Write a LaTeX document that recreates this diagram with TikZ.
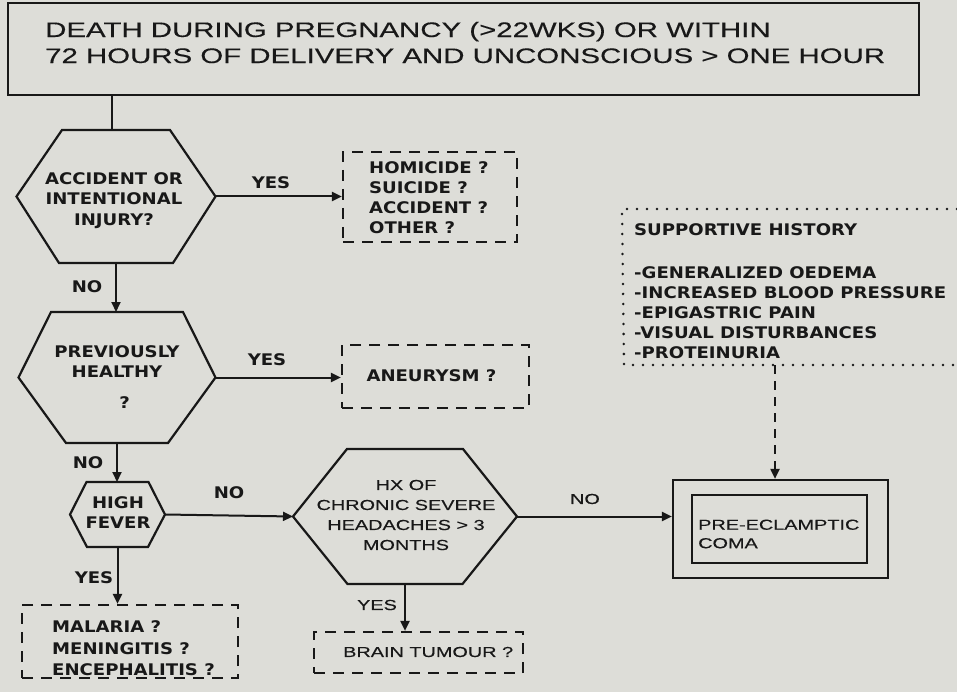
\documentclass[tikz,border=0pt]{standalone}
\usepackage{fontspec}
\usepackage{graphicx}
\setmainfont{Liberation Sans}
\newfontfamily\arialmed{Liberation Sans}[FakeBold=0.3]
\newfontfamily\widefont{DejaVu Sans}
\usetikzlibrary{arrows.meta}

\definecolor{paper}{RGB}{221,221,216}
\definecolor{inkc}{RGB}{24,24,24}

% horizontally stretched lettering
\newcommand\wb[1]{\scalebox{1.13}[1]{#1}}
\newcommand\wa[1]{\scalebox{1.37}[1]{#1}}
\newcommand\wt[1]{\scalebox{1.40}[1]{#1}}

% decision hexagon: name, cx, cy, half width, half top edge, half bottom edge, half height
\newcommand\hexnode[7]{%
  \draw[ink, line join=miter] (#2-#4,#3) -- (#2-#5,#3-#7) -- (#2+#5,#3-#7) -- (#2+#4,#3)
        -- (#2+#6,#3+#7) -- (#2-#6,#3+#7) -- cycle;
  \coordinate (#1-l) at (#2-#4,#3);
  \coordinate (#1-r) at (#2+#4,#3);
  \coordinate (#1-t) at (#2,#3-#7);
  \coordinate (#1-b) at (#2,#3+#7);
}

\tikzset{
  ink/.style={draw=inkc, line width=2.2pt},
  dashbox/.style={draw=inkc, line width=2.2pt, dash pattern=on 11pt off 8pt, inner sep=0pt},
  solidbox/.style={draw=inkc, line width=2.2pt, inner sep=0pt},
  arr/.style={draw=inkc, line width=2pt, -{Triangle[length=10pt,width=9pt]}},
  dasharr/.style={arr, dash pattern=on 9pt off 7pt},
  dotline/.style={draw=inkc, line width=2.8pt, line cap=round, dash pattern=on 0pt off 10pt},
  lblB/.style={font=\widefont\bfseries\fontsize{16}{20.5}\selectfont, text=inkc, inner sep=0pt, align=center},
  lblA/.style={font=\arialmed\fontsize{14.5}{20}\selectfont, text=inkc, inner sep=0pt, align=center},
  titletxt/.style={font=\arialmed\fontsize{21}{26}\selectfont, text=inkc, inner sep=0pt, align=left},
}

\begin{document}
\begin{tikzpicture}[x=1pt, y=-1pt]
  \useasboundingbox (0,0) rectangle (957,692);
  \fill[paper] (0,0) rectangle (957,692);

  % heading box
  \node[solidbox, minimum width=911pt, minimum height=92pt, anchor=north west] (titlebox) at (7,2) {};
  \node[titletxt, anchor=west] (title) at (45,42.5)
    {\wt{DEATH DURING PREGNANCY (>22WKS) OR WITHIN}\\\wt{72 HOURS OF DELIVERY AND UNCONSCIOUS > ONE HOUR}};

  % decision hexagons
  \hexnode{h1}{116}{196.5}{99.5}{54}{57}{66.5}
  \hexnode{h2}{117}{377.5}{98.5}{66}{51}{65.5}
  \hexnode{h3}{117.5}{514.5}{47.5}{31}{30.5}{32.5}
  \hexnode{h4}{405}{516.5}{112}{58}{57.5}{67.5}

  \node[lblB] (q1) at (114,200.5) {\wb{ACCIDENT OR}\\\wb{INTENTIONAL}\\\wb{INJURY?}};
  \node[lblB] (q2) at (117,377) {\wb{PREVIOUSLY}\\\wb{HEALTHY}\\[10pt]\hspace*{15pt}\wb{?}};
  \node[lblB, font=\widefont\bfseries\fontsize{16}{20}\selectfont] (q3) at (118,513) {\wb{HIGH}\\\wb{FEVER}};
  \node[lblA] (q4) at (406,515) {\wa{HX OF}\\\wa{CHRONIC SEVERE}\\\wa{HEADACHES > 3}\\\wa{MONTHS}};

  % outcome boxes
  \node[dashbox, minimum width=174pt, minimum height=90pt] (injury) at (430,197) {};
  \node[lblB, align=left, anchor=west, font=\widefont\bfseries\fontsize{16}{20}\selectfont] (injurytxt) at (369,198)
    {\wb{HOMICIDE ?}\\\wb{SUICIDE ?}\\\wb{ACCIDENT ?}\\\wb{OTHER ?}};

  \node[dashbox, minimum width=187pt, minimum height=63pt] (aneur) at (435.5,376.5) {};
  \node[lblB] (aneurtxt) at (431.5,376) {\wb{ANEURYSM ?}};

  \node[dashbox, minimum width=216pt, minimum height=73pt] (fever) at (130,641.5) {};
  \node[lblB, align=left, anchor=west, font=\widefont\bfseries\fontsize{16}{21.5}\selectfont] (fevertxt) at (52,648.5)
    {\wb{MALARIA ?}\\\wb{MENINGITIS ?}\\\wb{ENCEPHALITIS ?}};

  \node[dashbox, minimum width=209pt, minimum height=41pt] (brain) at (418.5,652.5) {};
  \node[lblA, anchor=west] (braintxt) at (343,652) {\wa{BRAIN TUMOUR ?}};

  \node[solidbox, minimum width=215pt, minimum height=98pt] (coma) at (780.5,529) {};
  \node[solidbox, minimum width=175pt, minimum height=68pt] (comain) at (779.5,529) {};
  \node[lblA, align=left, anchor=west, font=\arialmed\fontsize{14.5}{18.5}\selectfont] (comatxt) at (698,534)
    {\wa{PRE-ECLAMPTIC}\\\wa{COMA}};

  % supportive history panel (runs off the right edge)
  \draw[dotline] (957,209) -- (622,209) -- (624,365) -- (957,365);
  \coordinate (supbot) at (775,365);
  \node[lblB, align=left, anchor=west, font=\widefont\bfseries\fontsize{16}{20}\selectfont] (suptxt) at (634,291)
    {\wb{SUPPORTIVE HISTORY}\\[23pt]\wb{-GENERALIZED OEDEMA}\\\wb{-INCREASED BLOOD PRESSURE}\\
     \wb{-EPIGASTRIC PAIN}\\\wb{-VISUAL DISTURBANCES}\\\wb{-PROTEINURIA}};

  % connectors
  \draw[ink] ([xshift=-4pt]h1-t |- titlebox.south) -- ([xshift=-4pt]h1-t);
  \draw[arr] (h1-r) -- (h1-r -| injury.west);
  \draw[arr] (h1-b) -- (h1-b |- h2-t);
  \draw[arr] (h2-r) -- (h2-r -| aneur.west);
  \draw[arr] (h2-b) -- (h2-b |- h3-t);
  \draw[arr] (h3-r) -- (h4-l);
  \draw[arr] (h3-b) -- (h3-b |- fever.north);
  \draw[arr] (h4-r) -- (h4-r -| coma.west);
  \draw[arr] (h4-b) -- (h4-b |- brain.north);
  \draw[dasharr] (supbot) -- (supbot |- coma.north);

  % branch labels
  \node[lblB] (yes1) at (271,183) {\wb{YES}};
  \node[lblB] (no1) at (87,287) {\wb{NO}};
  \node[lblB] (yes2) at (267,360) {\wb{YES}};
  \node[lblB] (no2) at (88,463) {\wb{NO}};
  \node[lblB] (no3) at (229,493) {\wb{NO}};
  \node[lblB] (yes3) at (94,578) {\wb{YES}};
  \node[lblA] (no4) at (585,499) {\wa{NO}};
  \node[lblA] (yes4) at (377,605) {\wa{YES}};
\end{tikzpicture}
\end{document}
